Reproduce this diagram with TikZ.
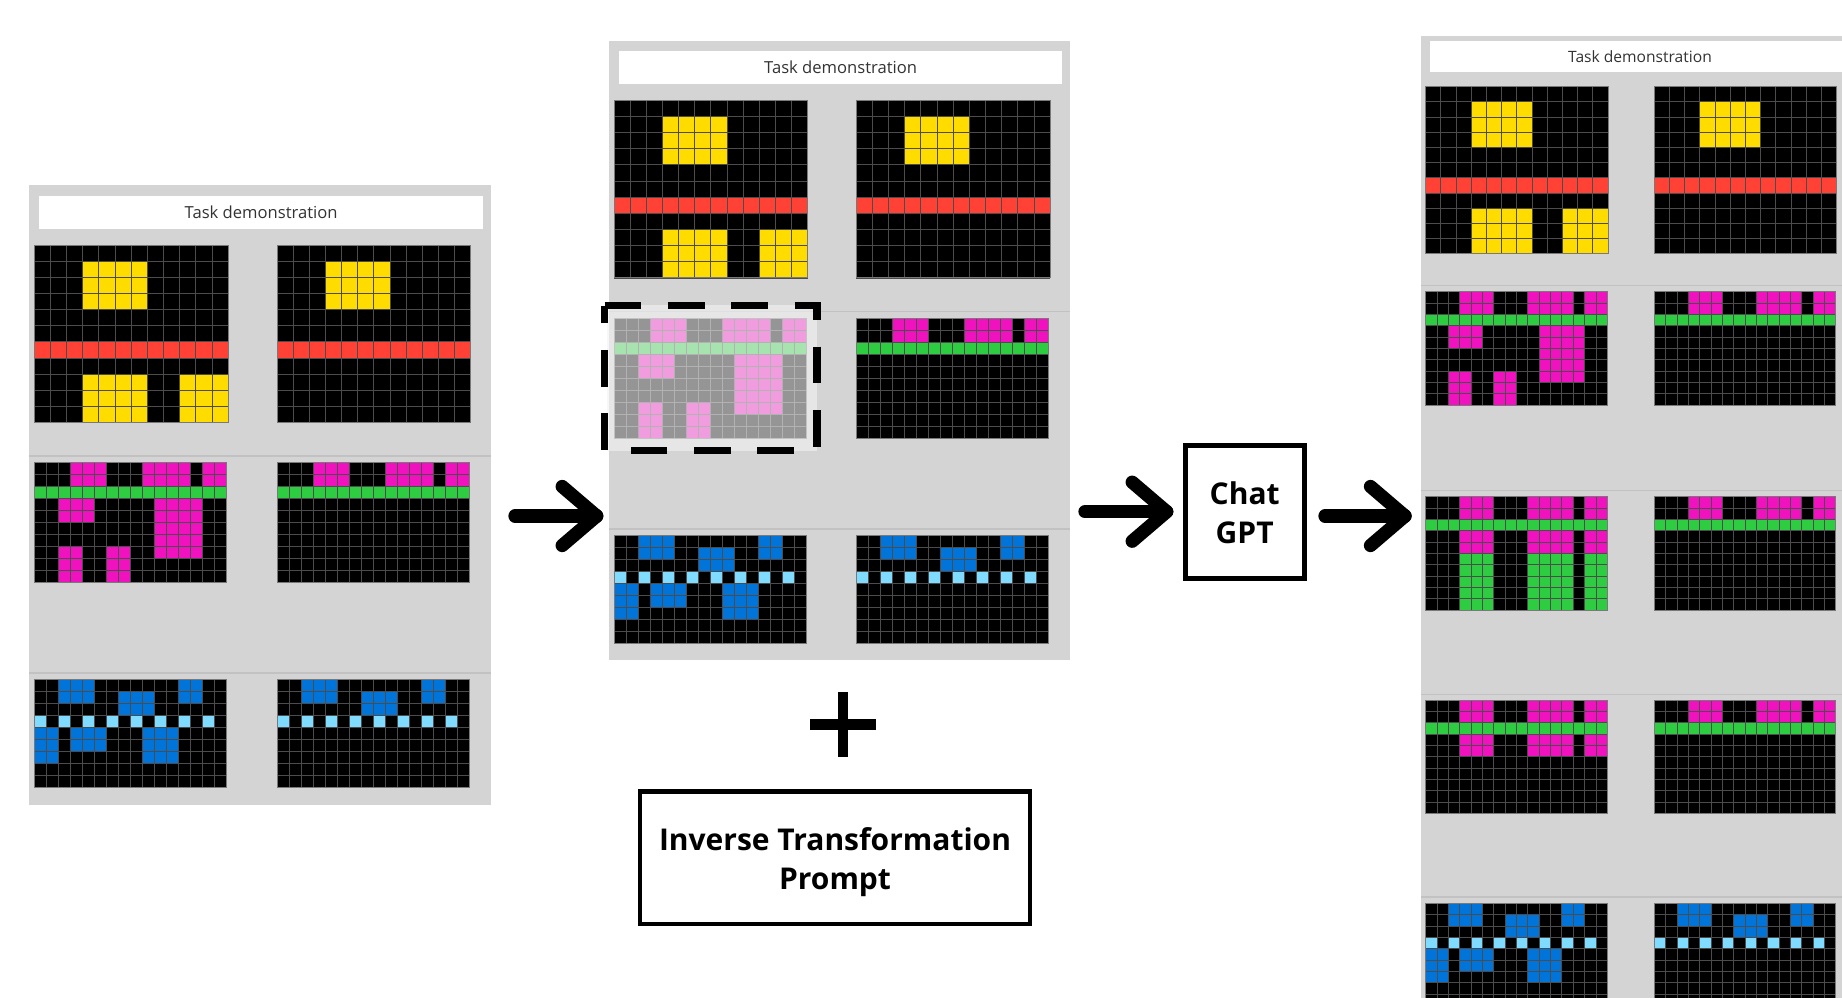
\documentclass[tikz,border=0pt]{standalone}
\usepackage{fontspec}
\setmainfont{Open Sans}
\usetikzlibrary{calc}

\definecolor{arcyellow}{HTML}{FFDC00}
\definecolor{arcred}{HTML}{FF4136}
\definecolor{arcmag}{HTML}{F012BE}
\definecolor{arcgreen}{HTML}{2ECC40}
\definecolor{arcblue}{HTML}{0074D9}
\definecolor{arclblue}{HTML}{7FDBFF}
\definecolor{panelbg}{HTML}{D4D4D4}
\definecolor{sepcol}{HTML}{C2C2C2}
\definecolor{gridcol}{HTML}{4C4C4C}
\definecolor{titletext}{HTML}{333333}
\definecolor{veilcol}{HTML}{F2F2F2}

% one ARC grid: #1 top-left corner (px), #2 cell size (pt), #3 columns, #4 rows, #5 coloured cells
\newcommand\arcgrid[5]{%
  \begin{scope}[shift={(#1)}, x=#2pt, y=-#2pt]
    \fill[black] (0,0) rectangle (#3,#4);
    #5
    \foreach \i in {0,...,#3} {\draw[gridline] (\i,0) -- (\i,#4);}
    \foreach \j in {0,...,#4} {\draw[gridline] (0,\j) -- (#3,\j);}
    \draw[gridborder] (0,0) rectangle (#3,#4);
  \end{scope}}

% yellow / red pair
\newcommand\gridAout{%
  \fill[arcyellow] (3,1) rectangle (7,4);
  \fill[arcred] (0,6) rectangle (12,7);}
\newcommand\gridAin{\gridAout
  \fill[arcyellow] (3,8) rectangle (7,11);
  \fill[arcyellow] (9,8) rectangle (12,11);}
% magenta / green pairs
\newcommand\gridBtop{%
  \fill[arcmag] (3,0) rectangle (6,2);
  \fill[arcmag] (9,0) rectangle (13,2);
  \fill[arcmag] (14,0) rectangle (16,2);
  \fill[arcgreen] (0,2) rectangle (16,3);}
\newcommand\gridBin{\gridBtop
  \fill[arcmag] (2,3) rectangle (5,5);
  \fill[arcmag] (10,3) rectangle (14,8);
  \fill[arcmag] (2,7) rectangle (4,10);
  \fill[arcmag] (6,7) rectangle (8,10);}
\newcommand\gridEin{\gridBtop
  \fill[arcmag] (3,3) rectangle (6,5);
  \fill[arcmag] (9,3) rectangle (13,5);
  \fill[arcmag] (14,3) rectangle (16,5);}
\newcommand\gridDin{\gridEin
  \fill[arcgreen] (3,5) rectangle (6,10);
  \fill[arcgreen] (9,5) rectangle (13,10);
  \fill[arcgreen] (14,5) rectangle (16,10);}
% blue pair
\newcommand\gridCtop{%
  \fill[arcblue] (2,0) rectangle (5,2);
  \fill[arcblue] (12,0) rectangle (14,2);
  \fill[arcblue] (7,1) rectangle (10,3);
  \foreach \c in {0,2,...,14} {\fill[arclblue] (\c,3) rectangle ++(1,1);}}
\newcommand\gridCin{\gridCtop
  \fill[arcblue] (0,4) rectangle (2,7);
  \fill[arcblue] (3,4) rectangle (6,6);
  \fill[arcblue] (9,4) rectangle (12,7);}

\begin{document}
\begin{tikzpicture}[x=0.5pt, y=-0.5pt,
  panel/.style={fill=panelbg, draw=none, inner sep=0pt, outer sep=0pt},
  titlebox/.style={fill=white, draw=none, inner sep=0pt, outer sep=0pt,
    text=titletext, font=\fontsize{8.3}{10}\selectfont},
  sepline/.style={draw=sepcol, line width=0.6pt},
  gridline/.style={draw=gridcol, line width=0.45pt},
  gridborder/.style={draw=gridcol!75!white, line width=0.5pt},
  bigarrow/.style={line width=6.65pt, line cap=round, line join=round},
  boxnode/.style={draw=black, fill=white, inner sep=0pt},
  boxtext/.style={align=center, inner sep=0pt,
    font=\bfseries\fontsize{15}{19.5}\selectfont},
  plusbar/.style={line width=5.35pt, line cap=butt},
  veil/.style={fill=veilcol, fill opacity=0.62},
  dashframe/.style={line width=3.75pt, dash pattern=on 18.35pt off 13.35pt, line cap=butt, line join=miter}
]
\useasboundingbox (0,0) rectangle (1842,997);
\begin{scope}
\clip (0,0) rectangle (1842,997);

% ---------- left panel ----------
\node[panel, minimum width=231pt, minimum height=310pt] (leftpanel) at (260,495) {};
\node[titlebox, minimum width=221.85pt, minimum height=16.5pt] (lefttitle) at (261.15,212.5) {Task demonstration};
\draw[sepline] (29,456) -- (491,456);
\draw[sepline] (29,673) -- (491,673);
\arcgrid{34.3,245}{8.075}{12}{11}{\gridAin}
\arcgrid{277,245}{8.075}{12}{11}{\gridAout}
\arcgrid{34.3,462.3}{6}{16}{10}{\gridBin}
\arcgrid{277,462.3}{6}{16}{10}{\gridBtop}
\arcgrid{34.3,679.7}{6}{16}{9}{\gridCin}
\arcgrid{277,679.7}{6}{16}{9}{\gridCtop}

% ---------- middle panel ----------
\node[panel, minimum width=230.5pt, minimum height=309.5pt] (midpanel) at (839.5,350.5) {};
\node[titlebox, minimum width=221.65pt, minimum height=16.65pt] (midtitle) at (840.65,67.65) {Task demonstration};
\draw[sepline] (609,311.7) -- (1070,311.7);
\draw[sepline] (609,529) -- (1070,529);
\arcgrid{614,100.3}{8.075}{12}{11}{\gridAin}
\arcgrid{856.3,100.3}{8.075}{12}{11}{\gridAout}
\arcgrid{614,318}{6}{16}{10}{\gridBin}
\arcgrid{856.3,318}{6}{16}{10}{\gridBtop}
\arcgrid{614,535.7}{6}{16}{9}{\gridCin}
\arcgrid{856.3,535.7}{6}{16}{9}{\gridCtop}
% the held-out input, greyed and framed
\fill[veil] (606.7,305) rectangle (816.7,450.7);
\draw[dashframe] (604.5,305.5) -- (817,305.5) -- (817,450.5) -- (604.5,450.5) -- cycle;

% ---------- right panel ----------
\node[panel, minimum width=229.5pt, minimum height=492pt] (rightpanel) at (1650.5,528) {};
\node[titlebox, minimum width=210pt, minimum height=15.5pt, font=\fontsize{7.8}{9}\selectfont] (righttitle) at (1640,56.7) {Task demonstration};
\draw[sepline] (1421,285.7) -- (1842,285.7);
\draw[sepline] (1421,490.7) -- (1842,490.7);
\draw[sepline] (1421,694.3) -- (1842,694.3);
\draw[sepline] (1421,897) -- (1842,897);
\arcgrid{1425.7,86.7}{7.6}{12}{11}{\gridAin}
\arcgrid{1654.3,86.7}{7.6}{12}{11}{\gridAout}
\arcgrid{1425.7,291.7}{5.675}{16}{10}{\gridBin}
\arcgrid{1654.3,291.7}{5.675}{16}{10}{\gridBtop}
\arcgrid{1425.7,496.7}{5.675}{16}{10}{\gridDin}
\arcgrid{1654.3,496.7}{5.675}{16}{10}{\gridBtop}
\arcgrid{1425.7,700}{5.675}{16}{10}{\gridEin}
\arcgrid{1654.3,700}{5.675}{16}{10}{\gridBtop}
\arcgrid{1425.7,903.3}{5.675}{16}{9}{\gridCin}
\arcgrid{1654.3,903.3}{5.675}{16}{9}{\gridCtop}
\end{scope}

% ---------- model and prompt ----------
\node[boxnode, line width=2.5pt, minimum width=59.65pt, minimum height=66.3pt] (gpt) at (1244.7,512) {};
\node[boxtext] (gpttext) at ($(gpt.center)+(0,1)$) {Chat\\GPT};
\node[boxnode, line width=2.35pt, minimum width=195pt, minimum height=66.15pt] (prompt) at (835,857.85) {};
\node[boxtext] (prompttext) at ($(prompt.center)+(0,4)$) {Inverse Transformation\\Prompt};

\coordinate (plusc) at (843,724.7);
\draw[plusbar] ($(plusc)+(-33,0)$) -- ($(plusc)+(33,0)$);
\draw[plusbar] ($(plusc)+(0,-32.3)$) -- ($(plusc)+(0,32.3)$);

% ---------- arrows ----------
\coordinate (a1s) at (515,516);
\coordinate (a1e) at (596.7,516);
\coordinate (a2s) at (1085,511.7);
\coordinate (a2e) at (1166.7,511.7);
\coordinate (a3s) at (1325,516);
\coordinate (a3e) at (1405,516);
\foreach \s/\e in {a1s/a1e, a2s/a2e, a3s/a3e} {
  \draw[bigarrow] (\s) -- (\e);
  \draw[bigarrow] ($(\e)+(-34.5,-29.5)$) -- (\e) -- ($(\e)+(-34.5,29.5)$);
}
\end{tikzpicture}
\end{document}
